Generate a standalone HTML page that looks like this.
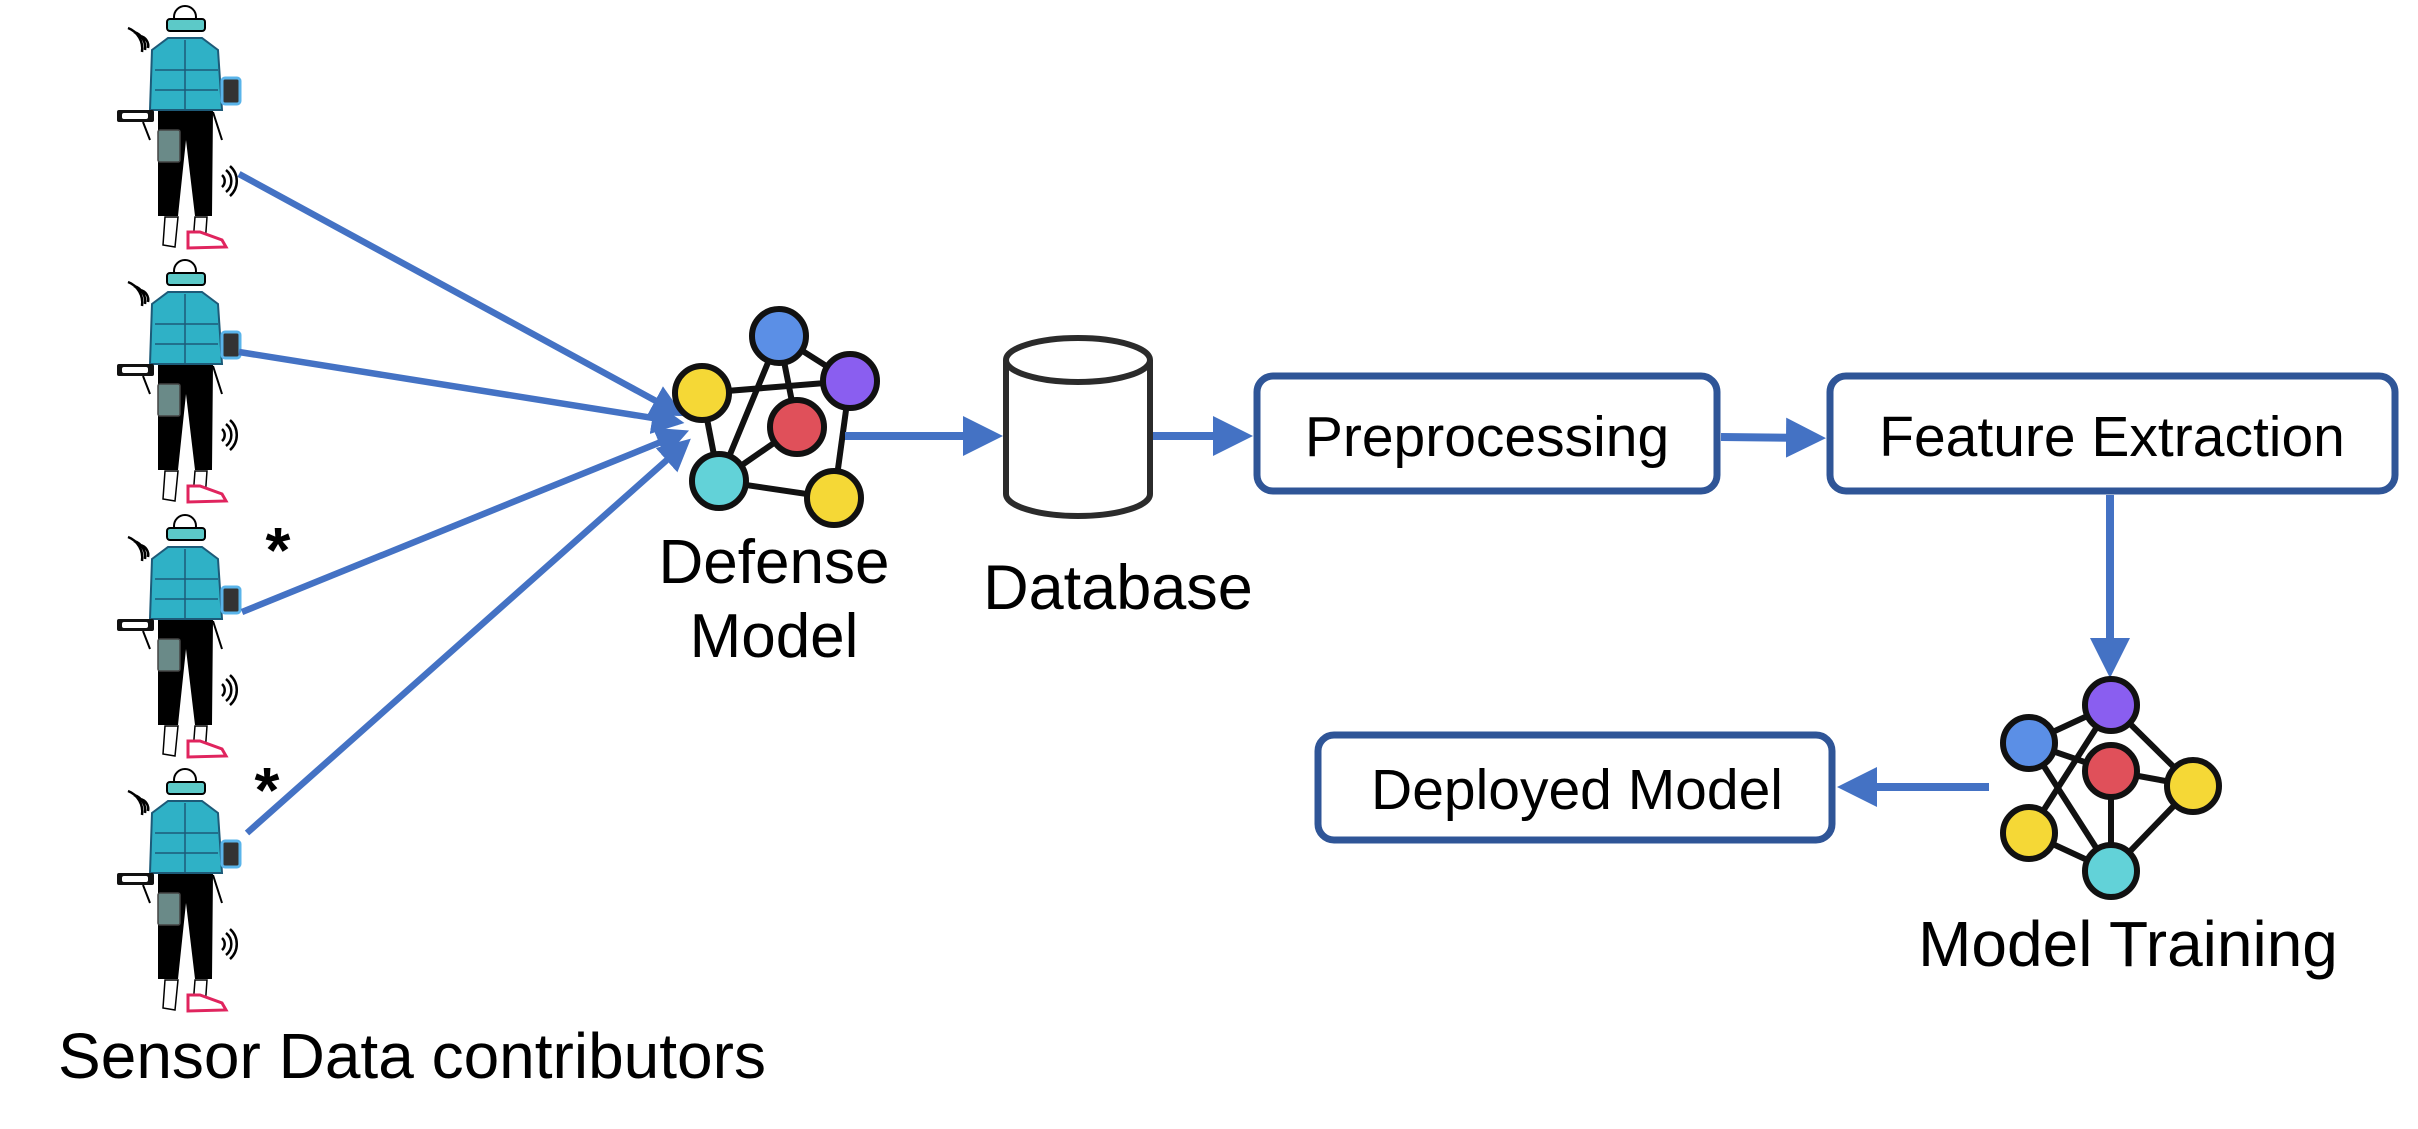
<!DOCTYPE html>
<html><head><meta charset="utf-8"><style>
html,body{margin:0;padding:0;background:#fff;}
svg{display:block}
text{font-family:"Liberation Sans",sans-serif;fill:#000}
</style></head><body>
<svg width="2418" height="1129" viewBox="0 0 2418 1129" xmlns="http://www.w3.org/2000/svg">
<defs>
<g id="person">
  <path d="M165 217 L163 245 L175 247 L178 217 Z M195 217 L193 243 L205 245 L207 217 Z" fill="#fff" stroke="#000" stroke-width="1.5"/>
  <path d="M188 232 L200 232 L222 240 L226 247 L188 248 Z" fill="#fff" stroke="#e0245e" stroke-width="3"/>
  <path d="M158 110 L213 110 L212 216 L195 216 L186 140 L178 216 L158 216 Z" fill="#000"/>
  <path d="M143 122 L150 140 M213 112 L222 140" stroke="#000" stroke-width="2" fill="none"/>
  <path d="M168 38 L202 38 L218 50 L222 110 L150 110 L152 50 Z" fill="#2fb1c6" stroke="#1d5a78" stroke-width="2"/>
  <path d="M185 40 L185 110 M155 70 L218 70 M155 90 L218 90" stroke="#1d5a78" stroke-width="1.5"/>
  <circle cx="185" cy="17" r="11" fill="#fff" stroke="#000" stroke-width="2"/>
  <rect x="167" y="19" width="38" height="12" rx="3" fill="#5cc9c8" stroke="#000" stroke-width="2"/>
  <rect x="222" y="78" width="18" height="26" rx="3" fill="#333" stroke="#5ab4ea" stroke-width="3"/>
  <rect x="117" y="110" width="37" height="12" rx="2" fill="#111"/>
  <rect x="122" y="113" width="26" height="6" rx="2" fill="#fff"/>
  <rect x="158" y="130" width="22" height="32" rx="2" fill="#6a8a88" stroke="#444" stroke-width="1.5"/>
  <path d="M148 48 A10 10 0 0 0 140 36 M145 50 A16 16 0 0 0 134 32 M142 52 A22 22 0 0 0 128 28" stroke="#000" stroke-width="2.5" fill="none"/>
  <path d="M222 175 A8 8 0 0 1 222 187 M226 170 A14 14 0 0 1 226 192 M230 166 A20 20 0 0 1 230 196" stroke="#000" stroke-width="2.5" fill="none"/>
</g>
<marker id="ah" markerWidth="5" markerHeight="5" refX="4" refY="2.5" orient="auto" markerUnits="strokeWidth">
  <path d="M0 0 L5 2.5 L0 5 Z" fill="#4472c4"/>
</marker>
</defs>

<use href="#person" x="0" y="0"/>
<use href="#person" x="0" y="254"/>
<use href="#person" x="0" y="509"/>
<use href="#person" x="0" y="763"/>

<text x="278" y="572" font-size="64" font-weight="bold" text-anchor="middle">*</text>
<text x="267" y="812" font-size="64" font-weight="bold" text-anchor="middle">*</text>

<g stroke="#4472c4" stroke-width="6.5" fill="none" marker-end="url(#ah)">
  <line x1="239" y1="174" x2="678" y2="413"/>
  <line x1="239" y1="352" x2="678" y2="422"/>
  <line x1="242" y1="612" x2="683" y2="433"/>
  <line x1="247" y1="833" x2="686" y2="443"/>
</g>

<g stroke="#111" stroke-width="6">
  <line x1="702" y1="393" x2="850" y2="381"/>
  <line x1="779" y1="336" x2="850" y2="381"/>
  <line x1="779" y1="336" x2="719" y2="481"/>
  <line x1="779" y1="336" x2="797" y2="427"/>
  <line x1="702" y1="393" x2="719" y2="481"/>
  <line x1="797" y1="427" x2="719" y2="481"/>
  <line x1="719" y1="481" x2="834" y2="498"/>
  <line x1="850" y1="381" x2="834" y2="498"/>
</g>
<g stroke="#111" stroke-width="6">
  <circle cx="779" cy="336" r="27" fill="#5b8fe6"/>
  <circle cx="850" cy="381" r="27" fill="#8a5ef0"/>
  <circle cx="702" cy="393" r="27" fill="#f5d836"/>
  <circle cx="797" cy="427" r="27" fill="#e0505a"/>
  <circle cx="719" cy="481" r="27" fill="#62d2d8"/>
  <circle cx="834" cy="498" r="27" fill="#f5d836"/>
</g>
<text x="774" y="583" font-size="62" text-anchor="middle">Defense</text>
<text x="774" y="657" font-size="62" text-anchor="middle">Model</text>

<g stroke="#4472c4" stroke-width="8" fill="none" marker-end="url(#ah)">
  <line x1="845" y1="436" x2="995" y2="436"/>
  <line x1="1152" y1="436" x2="1245" y2="436"/>
  <line x1="1721" y1="437" x2="1818" y2="438"/>
  <line x1="2110" y1="495" x2="2110" y2="670"/>
  <line x1="1989" y1="787" x2="1845" y2="787"/>
</g>

<g stroke="#2b2b2b" stroke-width="6" fill="#fff">
  <path d="M1006 360 L1006 494 A72 22 0 0 0 1150 494 L1150 360"/>
  <ellipse cx="1078" cy="360" rx="72" ry="22"/>
</g>
<text x="1118" y="609" font-size="63" text-anchor="middle">Database</text>

<g stroke="#2f5597" stroke-width="7" fill="#fff">
  <rect x="1257" y="376" width="460" height="115" rx="16"/>
  <rect x="1830" y="376" width="565" height="115" rx="16"/>
  <rect x="1318" y="735" width="514" height="105" rx="16"/>
</g>
<text x="1487" y="456" font-size="57" text-anchor="middle">Preprocessing</text>
<text x="2112" y="456" font-size="57" text-anchor="middle">Feature Extraction</text>
<text x="1577" y="809" font-size="57" text-anchor="middle">Deployed Model</text>

<g stroke="#111" stroke-width="6">
  <line x1="2111" y1="705" x2="2029" y2="743"/>
  <line x1="2111" y1="705" x2="2193" y2="786"/>
  <line x1="2111" y1="705" x2="2029" y2="833"/>
  <line x1="2029" y1="743" x2="2111" y2="771"/>
  <line x1="2029" y1="743" x2="2111" y2="871"/>
  <line x1="2111" y1="771" x2="2193" y2="786"/>
  <line x1="2111" y1="771" x2="2111" y2="871"/>
  <line x1="2193" y1="786" x2="2111" y2="871"/>
  <line x1="2029" y1="833" x2="2111" y2="871"/>
</g>
<g stroke="#111" stroke-width="6">
  <circle cx="2111" cy="705" r="26" fill="#8a5ef0"/>
  <circle cx="2029" cy="743" r="26" fill="#5b8fe6"/>
  <circle cx="2111" cy="771" r="26" fill="#e0505a"/>
  <circle cx="2193" cy="786" r="26" fill="#f5d836"/>
  <circle cx="2029" cy="833" r="26" fill="#f5d836"/>
  <circle cx="2111" cy="871" r="26" fill="#62d2d8"/>
</g>
<text x="2128" y="966" font-size="64" text-anchor="middle">Model Training</text>

<text x="412" y="1078" font-size="64" text-anchor="middle">Sensor Data contributors</text>
</svg>
</body></html>
